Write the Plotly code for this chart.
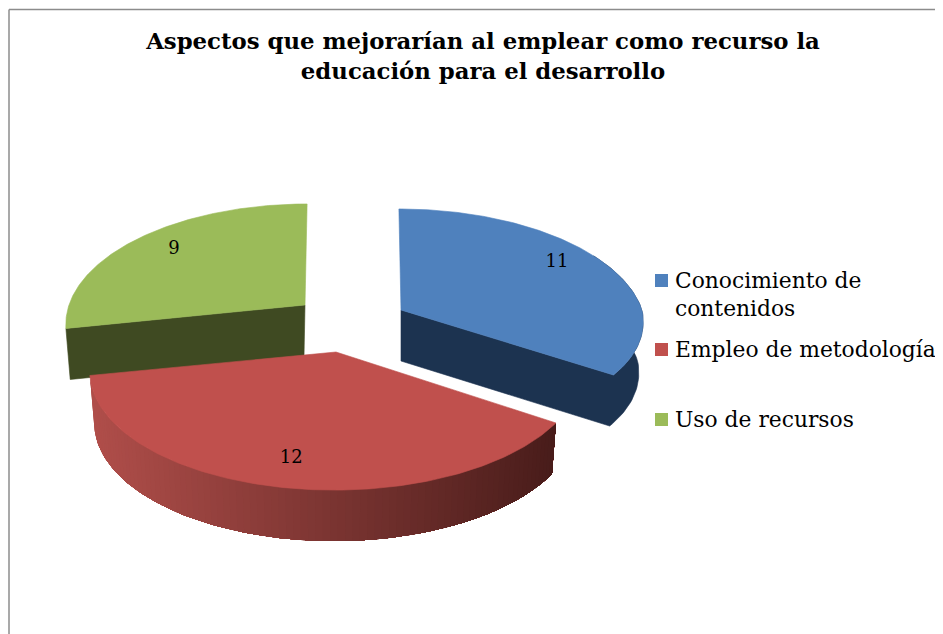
import numpy as np
import plotly.graph_objects as go

categories = ["Conocimiento de<br>contenidos", "Empleo de metodología", "Uso de recursos"]
values = [11, 12, 9]
title_text = "Aspectos que mejorarían al emplear como recurso la<br>educación para el desarrollo"

top_colors = ["#4F81BD", "#C0504D", "#9BBB59"]
wall_colors = ["#1C3350", None, "#3F4A22"]
apex = [(401, 310), (336, 352), (305, 305)]
slice_rx = [241, 243, 236]
front_x = [0.065, 0, 0]
front_y = [0.15, 0, 0]
label_r = [0.78, 0.8, 0.78]
label_dy = [-7, 2, -2]
key_y = [280.5, 349.5, 419.5]
key_text_y = [294.5, 349, 419]
RY, K, DEPTH, TILT = 116.7, 0.155, 51, 3.0
FONT = "DejaVu Serif"
PAGE = 8  # the page's own margin round the figure

ends = 360 * np.cumsum(values) / sum(values)
starts = np.concatenate([[0], ends[:-1]])


def project(i, t_deg, r=1.0, lower=False):
    ax, ay = apex[i]
    t = np.radians(t_deg)
    u, v = r * np.sin(t), -r * np.cos(t)
    s = 1 / (1 - K * v)
    sign = 1 if ax > 350 else -1
    fv = np.maximum(v, 0)
    dx = slice_rx[i] * u * s * (1 - front_x[i] * fv) + sign * TILT * v * 0.7
    dy = RY * v * s * (1 - front_y[i] * fv)
    if lower:
        return ax + dx * 0.982, ay + dy + DEPTH
    return ax + dx, ay + dy


def poly(xs, ys, color, lw=0.6):
    return go.Scatter(x=list(xs) + [xs[0]], y=list(ys) + [ys[0]], mode="lines", fill="toself",
                      fillcolor=color, line=dict(color=color, width=lw),
                      hoverinfo="skip", showlegend=False)


def mix(a, b, f):
    return "rgb(%d,%d,%d)" % tuple(round(a[i] + (b[i] - a[i]) * f) for i in range(3))


fig = go.Figure()


def draw_slice(i):
    ax, ay = apex[i]
    t = np.linspace(starts[i], ends[i], 160)
    rim_x, rim_y = project(i, t)
    if i == 1:
        # curved front wall with left-to-right shading, painted back over front
        tw = np.linspace(ends[i], starts[i], 91)
        light, dark = (176, 78, 74), (72, 28, 26)
        xa, ya = project(i, tw)
        xb, yb = project(i, tw, lower=True)
        lo, hi = xa.min(), xa.max()
        for j in range(len(tw) - 1):
            f = (xa[j] - lo) / (hi - lo)
            fig.add_trace(poly(list(xa[j:]) + list(xb[j:][::-1]),
                               list(ya[j:]) + list(yb[j:][::-1]), mix(light, dark, f), lw=0))
    elif i == 0:
        tw = np.linspace(60, ends[i], 50)
        xa, ya = project(i, tw)
        xb, yb = project(i, tw, lower=True)
        fig.add_trace(poly([ax] + list(xb[::-1]) + list(xa) + [ax],
                           [ay + DEPTH] + list(yb[::-1]) + list(ya) + [ay], wall_colors[i]))
    else:
        e = np.array([starts[i]])
        xe, ye = project(i, e)
        xl, yl = project(i, e, lower=True)
        fig.add_trace(poly([ax, xe[0], xl[0], ax - 1], [ay, ye[0], yl[0], ay + DEPTH], wall_colors[i]))
    fig.add_trace(poly([ax] + list(rim_x), [ay] + list(rim_y), top_colors[i]))


for i in [2, 0, 1]:
    draw_slice(i)

# value labels, placed by each slice's mid-angle
for i, val in enumerate(values):
    lx, ly = project(i, np.array([(starts[i] + ends[i]) / 2]), label_r[i])
    fig.add_trace(go.Scatter(x=lx, y=ly + label_dy[i], mode="text", text=[str(val)],
                             textfont=dict(family=FONT, size=18, color="#000000"),
                             hoverinfo="skip", showlegend=False))

# colour key: swatch and wrapped label for each category
key_shapes = [dict(type="rect", xref="x", yref="y", x0=655, x1=668, y0=ky - 6.5, y1=ky + 6.5,
                   fillcolor=c, line=dict(width=0)) for ky, c in zip(key_y, top_colors)]
key_labels = [dict(text=name, x=673, y=ty, xref="x", yref="y", xanchor="left", yanchor="middle",
                   align="left", showarrow=False,
                   font=dict(family=FONT, size=21.8, color="#000000"))
              for name, ty in zip(categories, key_text_y)]

fig.update_layout(
    width=943, height=634, autosize=False,
    margin=dict(l=0, r=0, t=0, b=0),
    showlegend=False,
    paper_bgcolor="#FFFFFF", plot_bgcolor="#FFFFFF",
    xaxis=dict(range=[PAGE, 943 + PAGE], visible=False, fixedrange=True),
    yaxis=dict(range=[634 + PAGE, PAGE], visible=False, fixedrange=True),
    title=dict(text="<b>%s</b>" % title_text, x=(483 - PAGE) / 943, xanchor="center",
               y=1 - (49 - PAGE) / 634, yanchor="top",
               font=dict(family=FONT, size=22.8, color="#000000")),
    annotations=key_labels,
    shapes=key_shapes + [
        dict(type="line", xref="x", yref="y", x0=9, x1=9, y0=9.5, y1=660,
             line=dict(color="#8C8C8C", width=1.5)),
        dict(type="line", xref="x", yref="y", x0=9, x1=960, y0=9.5, y1=9.5,
             line=dict(color="#8C8C8C", width=1.5)),
    ],
)

fig.write_html("out.html", config=dict(displayModeBar=False))
